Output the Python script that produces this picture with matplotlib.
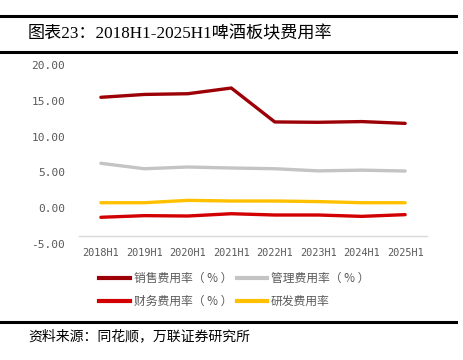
import matplotlib
matplotlib.use('Agg')
import matplotlib.pyplot as plt
from matplotlib.lines import Line2D

plt.rcParams['font.family'] = ['Liberation Serif', 'Noto Sans CJK SC', 'DejaVu Sans']

# data
periods = ['2018H1', '2019H1', '2020H1', '2021H1', '2022H1', '2023H1', '2024H1', '2025H1']
sales_rate = [15.5, 15.9, 16.0, 16.8, 12.05, 12.0, 12.1, 11.85]
admin_rate = [6.26, 5.5, 5.74, 5.6, 5.5, 5.2, 5.3, 5.18]
finance_rate = [-1.3, -1.07, -1.12, -0.8, -0.98, -0.98, -1.17, -0.93]
rd_rate = [0.74, 0.74, 1.07, 0.98, 0.98, 0.9, 0.74, 0.74]
yticks = [-5, 0, 5, 10, 15, 20]

series = [
    ('销售费用率（ % ）', sales_rate, '#9C0006'),
    ('管理费用率（ % ）', admin_rate, '#C4C4C4'),
    ('财务费用率（ % ）', finance_rate, '#D20000'),
    ('研发费用率', rd_rate, '#FFC000'),
]

fig = plt.figure(figsize=(4.63, 3.6), dpi=100)
ax = fig.add_axes([0.171, 0.323, 0.751, 0.496])

x = list(range(len(periods)))
for name, vals, col in series:
    ax.plot(x, vals, color=col, linewidth=2.4, solid_capstyle='round', label=name)

# spine position first: moving it resets the tick labels
for s in ['top', 'right', 'left']:
    ax.spines[s].set_visible(False)
ax.spines['bottom'].set_position(('data', -3.9))
ax.spines['bottom'].set_color('#D9D9D9')
ax.spines['bottom'].set_linewidth(1.0)

mono = ['DejaVu Sans Mono', 'DejaVu Sans']
ax.set_xlim(-0.5, len(periods) - 0.5)
ax.set_ylim(-5, 20)
ax.set_yticks(yticks)
ax.set_yticklabels(['%.2f' % v for v in yticks], family=mono, fontsize=8)
ax.set_xticks(x)
ax.set_xticklabels(periods, family=mono, fontsize=7.4)
ax.tick_params(axis='both', length=0, labelcolor='#595959')
ax.tick_params(axis='y', pad=10)
ax.tick_params(axis='x', pad=9)

# legend, two rows (column-major fill, so reorder)
order = [0, 2, 1, 3]
handles = [Line2D([0], [0], color=series[i][2], linewidth=3) for i in order]
labels = [series[i][0] for i in order]
fig.legend(handles, labels, loc='center', bbox_to_anchor=(0.506, 0.195), ncol=2,
           frameon=False, handlelength=2.6, handletextpad=0.3,
           columnspacing=0.4, labelspacing=0.85, labelcolor='#595959',
           prop={'family': ['Noto Sans CJK SC', 'DejaVu Sans'], 'size': 8.5})

# header and footer rules
fig.add_artist(Line2D([0, 0.985], [1 - 16 / 360, 1 - 16 / 360], color='black', linewidth=2.2))
fig.add_artist(Line2D([0, 0.985], [1 - 52 / 360, 1 - 52 / 360], color='black', linewidth=2.2))
fig.add_artist(Line2D([0, 0.985], [1 - 322 / 360, 1 - 322 / 360], color='black', linewidth=2.2))

fig.text(28 / 463, 1 - 34 / 360, '图表23：2018H1-2025H1啤酒板块费用率', fontsize=12.3,
         va='center', ha='left', color='black')
fig.text(28 / 463, 1 - 336 / 360, '资料来源：同花顺，万联证券研究所', fontsize=10,
         va='center', ha='left', color='black',
         family=['Noto Sans CJK SC', 'DejaVu Sans'])

fig.savefig('out.png', dpi=100)
